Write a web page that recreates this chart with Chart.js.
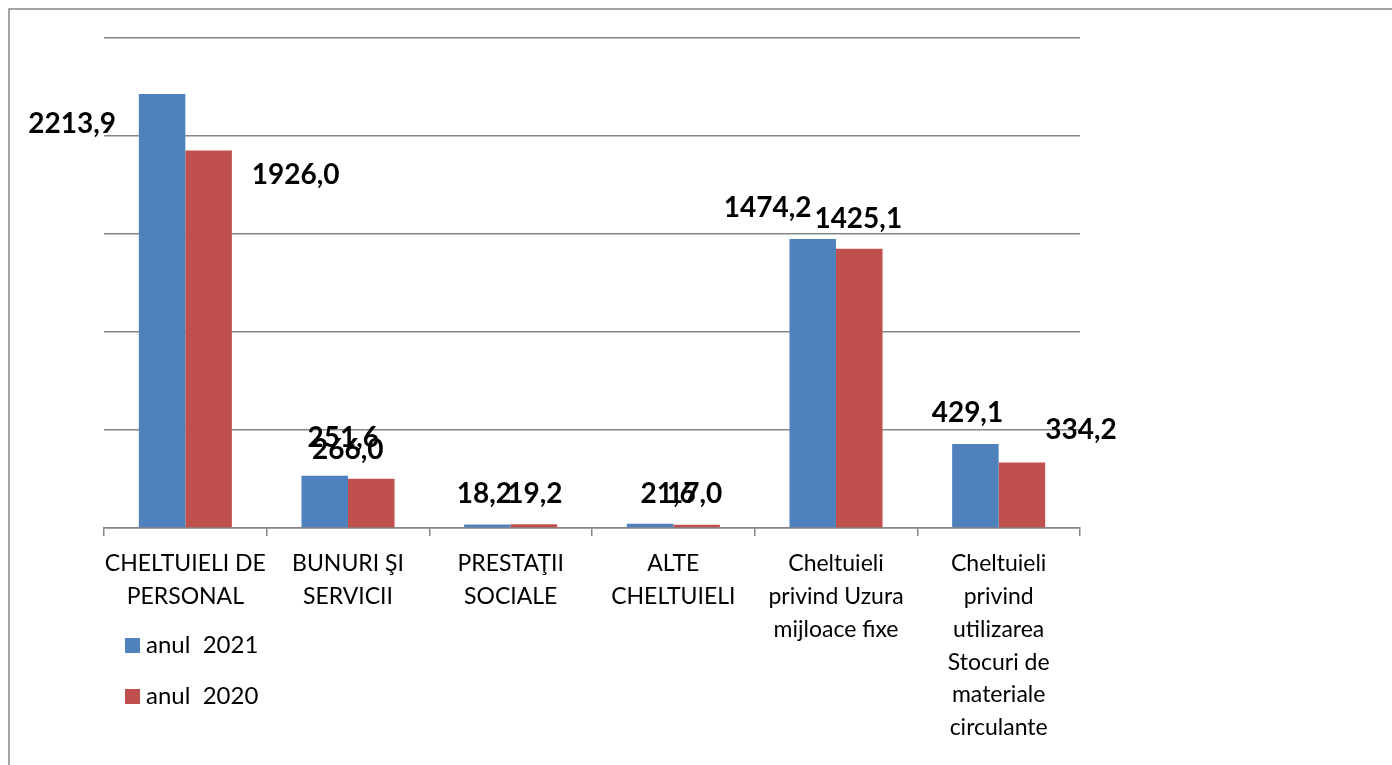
<!DOCTYPE html>
<html>
<head>
<meta charset="utf-8">
<script src="https://cdn.jsdelivr.net/npm/chart.js@4.4.1/dist/chart.umd.min.js"></script>
<style>
  html, body { margin: 0; padding: 0; background: #fff; }
  #wrap { position: relative; width: 1392px; height: 765px; }
</style>
</head>
<body>
<div id="wrap"><canvas id="c" width="1392" height="765"></canvas></div>
<script>
// ---- DATA ----
const categories = [
  ["CHELTUIELI DE", "PERSONAL"],
  ["BUNURI ŞI", "SERVICII"],
  ["PRESTAŢII", "SOCIALE"],
  ["ALTE", "CHELTUIELI"],
  ["Cheltuieli", "privind Uzura", "mijloace fixe"],
  ["Cheltuieli", "privind", "utilizarea", "Stocuri de", "materiale", "circulante"]
];
const seriesNames = ["anul  2021", "anul  2020"];
const values2021 = [2213.9, 266.0, 18.2, 21.6, 1474.2, 429.1];
const values2020 = [1926.0, 251.6, 19.2, 17.0, 1425.1, 334.2];
const yTicks = [0, 500, 1000, 1500, 2000, 2500];

// ---- STYLE ----
const colors = ["#4F81BD", "#C0504D"];
const gridColor = "#868686";
const FONT = "Lato, 'Open Sans', sans-serif";
// label offsets (dx, dy) relative to bar top centre, per series
const labelOffsets = [
  [[-90, 30], [23, -26], [-3, -30], [18, -30], [-45, -31], [-8, -31]],
  [[87, 24], [-28, -41], [1, -30], [-2, -31], [-1, -30], [59, -33]]
];

const fmt = v => v.toFixed(1).replace('.', ',');

const labelPlugin = {
  id: 'barLabels',
  afterDatasetsDraw(chart) {
    const ctx = chart.ctx;
    ctx.save();
    ctx.font = "bold 28px " + FONT;
    ctx.fillStyle = "#000";
    ctx.textAlign = "center";
    ctx.textBaseline = "middle";
    chart.data.datasets.forEach((ds, di) => {
      const meta = chart.getDatasetMeta(di);
      meta.data.forEach((bar, i) => {
        const off = labelOffsets[di][i];
        ctx.fillText(fmt(ds.data[i]), bar.x + off[0], bar.y + off[1]);
      });
    });
    ctx.restore();
  }
};

const legendPlugin = {
  id: 'customLegend',
  afterDraw(chart) {
    const ctx = chart.ctx;
    ctx.save();
    ctx.font = "24px " + FONT;
    ctx.textBaseline = "middle";
    ctx.textAlign = "left";
    const rows = [645, 696];
    chart.data.datasets.forEach((ds, di) => {
      const y = rows[di];
      ctx.fillStyle = ds.backgroundColor;
      ctx.fillRect(125, y - 7, 15, 15);
      ctx.fillStyle = "#000";
      ctx.fillText(ds.label, 146, y);
    });
    ctx.restore();
  }
};

const framePlugin = {
  id: 'frame',
  beforeDraw(chart) {
    const ctx = chart.ctx;
    ctx.save();
    ctx.fillStyle = "#fff";
    ctx.fillRect(0, 0, chart.width, chart.height);
    ctx.strokeStyle = gridColor;
    ctx.lineWidth = 1.5;
    ctx.beginPath();
    ctx.moveTo(9, chart.height + 2);
    ctx.lineTo(9, 9);
    ctx.lineTo(chart.width + 2, 9);
    ctx.stroke();
    ctx.restore();
  }
};

new Chart(document.getElementById('c'), {
  type: 'bar',
  data: {
    labels: categories,
    datasets: [
      { label: seriesNames[0], data: values2021, backgroundColor: colors[0] },
      { label: seriesNames[1], data: values2020, backgroundColor: colors[1] }
    ]
  },
  options: {
    responsive: false,
    animation: false,
    devicePixelRatio: 1,
    layout: { padding: { left: 104, right: 312, top: 38, bottom: 0 } },
    datasets: { bar: { categoryPercentage: 0.572, barPercentage: 1.0 } },
    plugins: {
      legend: { display: false },
      tooltip: { enabled: false }
    },
    scales: {
      x: {
        offset: true,
        border: { display: true, color: gridColor, width: 1.5 },
        grid: { display: true, drawOnChartArea: false, drawTicks: true, tickLength: 8, color: gridColor, lineWidth: 1.5, offset: true },
        ticks: {
          color: "#000",
          font: { family: FONT, size: 23, lineHeight: 1.43 },
          padding: 11,
          maxRotation: 0,
          minRotation: 0,
          autoSkip: false
        },
        afterFit(scale) { scale.height = 765 - 528; }
      },
      y: {
        min: yTicks[0],
        max: yTicks[yTicks.length - 1],
        afterBuildTicks(scale) { scale.ticks = yTicks.map(v => ({ value: v })); },
        border: { display: false },
        grid: { color: gridColor, lineWidth: 1.5, drawTicks: false },
        ticks: { display: false },
        afterFit(scale) { scale.width = 0; }
      }
    }
  },
  plugins: [framePlugin, labelPlugin, legendPlugin]
});
</script>
</body>
</html>
